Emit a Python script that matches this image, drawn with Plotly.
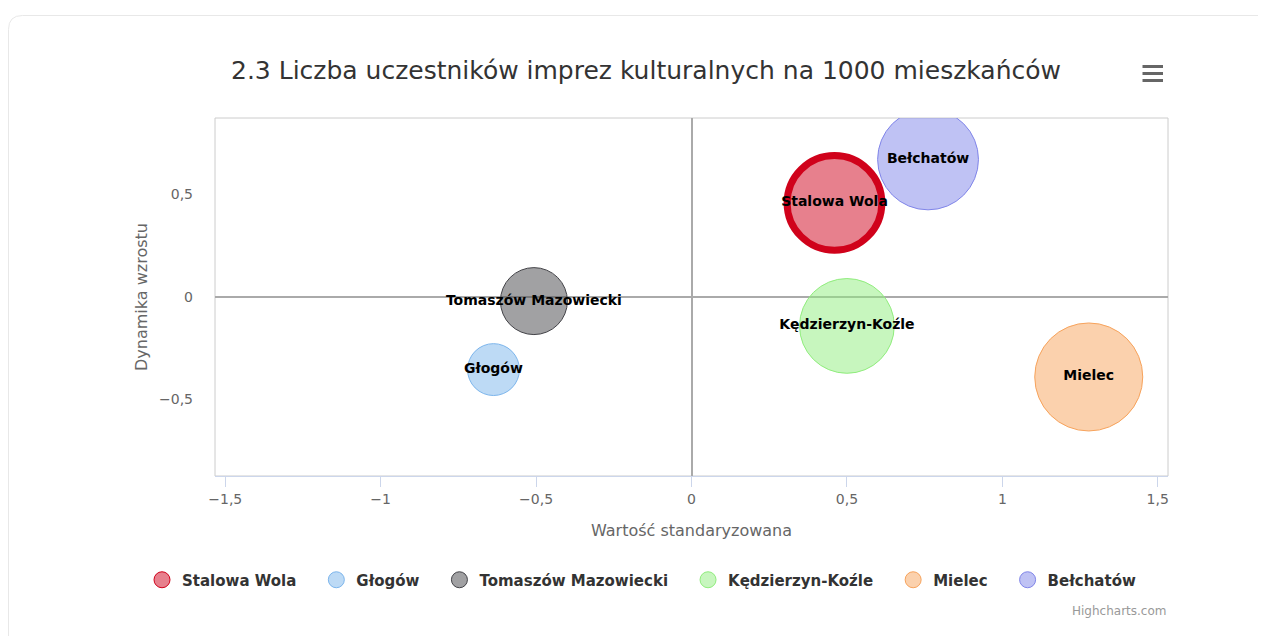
import plotly.graph_objects as go

# ---- data ----
cities = ["Stalowa Wola", "Głogów", "Tomaszów Mazowiecki", "Kędzierzyn-Koźle", "Mielec", "Bełchatów"]
x_std = [0.460, -0.637, -0.507, 0.500, 1.278, 0.761]        # Wartość standaryzowana
y_dyn = [0.459, -0.354, -0.020, -0.141, -0.390, 0.671]      # Dynamika wzrostu
z_val = [90, 27, 45, 90, 117, 102]                          # bubble value
colors = ["#d0021b", "#7cb5ec", "#434348", "#90ed7d", "#f7a35c", "#8085e9"]
x_ticks = [-1.5, -1, -0.5, 0, 0.5, 1, 1.5]
y_ticks = [-0.5, 0, 0.5]

OFF = 8                      # page body margin
PW, PH = 1266, 644           # page size
W, H = PW - 2 * OFF, PH - 2 * OFF
L, R, T, B = 215, 1168, 118, 476   # plot area in page pixels
MAXD = 108
sizeref = 2.0 * max(z_val) / (MAXD ** 2)

def px(x):
    return (x - L) / (R - L)

def py(y):
    return (B - y) / (B - T)

def cx(x):
    return (x - OFF) / W

def cy(y):
    return 1 - (y - OFF) / H

def rgba(hexc, a):
    h = hexc.lstrip("#")
    return "rgba(%d,%d,%d,%s)" % (int(h[0:2], 16), int(h[2:4], 16), int(h[4:6], 16), a)

FONT = "DejaVu Sans"
fig = go.Figure()

n = len(cities)
for i, name in enumerate(cities):
    highlight = (i == 0)
    legend_name = name + ("\u2003" if i < n - 1 else "")
    fig.add_trace(go.Scatter(
        x=[x_std[i]], y=[y_dyn[i]], name=legend_name,
        mode="markers" if highlight else "markers+text",
        text=None if highlight else [name],
        textposition="middle center",
        textfont=dict(family=FONT, size=14, color="#000000", weight="bold"),
        marker=dict(size=[z_val[i]], sizemode="area", sizeref=sizeref, opacity=1,
                    color=rgba(colors[i], 0.5),
                    line=dict(color=colors[i], width=1)),
        hovertemplate=name + "<br>x: %{x}<br>y: %{y}<extra></extra>",
    ))
    if highlight:
        fig.add_trace(go.Scatter(
            x=[x_std[i]], y=[y_dyn[i]], name=name, showlegend=False,
            mode="markers+text", text=[name], textposition="middle center",
            textfont=dict(family=FONT, size=14, color="#000000", weight="bold"),
            marker=dict(size=[z_val[i]], sizemode="area", sizeref=sizeref, opacity=1,
                        color="rgba(0,0,0,0)",
                        line=dict(color=colors[i], width=7)),
            hoverinfo="skip",
        ))

shapes = []
# card border
r = 14
x0c, y0c = 8.5, 15.5
x1c, y1c = PW + 40, PH + 40
path = ("M %f,%f L %f,%f Q %f,%f %f,%f L %f,%f" % (
    px(x0c), py(y1c), px(x0c), py(y0c + r), px(x0c), py(y0c), px(x0c + r), py(y0c),
    px(x1c), py(y0c)))
shapes.append(dict(type="path", path=path, xref="paper", yref="paper",
                   line=dict(color="#e8e8e8", width=1), layer="below"))
# plot border
shapes.append(dict(type="rect", xref="paper", yref="paper", x0=0, x1=1, y0=0, y1=1,
                   line=dict(color="#cccccc", width=1), layer="below"))
# hamburger menu icon
for yy in (66.5, 73.5, 80.5):
    shapes.append(dict(type="line", xref="paper", yref="paper",
                       x0=px(1142.5), x1=px(1163), y0=py(yy), y1=py(yy),
                       line=dict(color="#666666", width=3)))

fig.update_layout(
    width=W, height=H,
    margin=dict(l=L - OFF, r=W - (R - OFF), t=T - OFF, b=H - (B - OFF), autoexpand=False),
    paper_bgcolor="white", plot_bgcolor="white",
    separators=", ",
    font=dict(family=FONT, color="#666666"),
    title=dict(text="2.3 Liczba uczestników imprez kulturalnych na 1000 mieszkańców",
               x=cx(646), xref="container", xanchor="center",
               y=cy(70), yref="container", yanchor="middle",
               font=dict(family=FONT, size=25, color="#333333")),
    xaxis=dict(range=[-1.533, 1.533], tickvals=x_ticks, showgrid=False,
               zeroline=True, zerolinecolor="#aaaaaa", zerolinewidth=2,
               showline=True, linecolor="#ccd6eb", linewidth=1,
               ticks="outside", ticklen=10, tickcolor="#ccd6eb",
               tickfont=dict(family=FONT, size=14, color="#666666"),
               title=dict(text="Wartość standaryzowana", standoff=19,
                          font=dict(family=FONT, size=16, color="#666666"))),
    yaxis=dict(range=[-0.873, 0.873], tickvals=y_ticks, showgrid=False,
               zeroline=True, zerolinecolor="#aaaaaa", zerolinewidth=2,
               showline=False, ticks="", ticklabelstandoff=21,
               tickfont=dict(family=FONT, size=14, color="#666666"),
               title=dict(text="Dynamika wzrostu", standoff=7,
                          font=dict(family=FONT, size=16, color="#666666"))),
    legend=dict(orientation="h", xref="paper", yref="paper",
                x=px(142), xanchor="left", y=py(580), yanchor="middle",
                font=dict(family=FONT, size=15, color="#333333", weight="bold"),
                bgcolor="rgba(0,0,0,0)", traceorder="normal"),
    shapes=shapes,
    annotations=[dict(text="Highcharts.com", xref="paper", yref="paper", x=1, xanchor="right",
                      y=py(611), yanchor="middle", showarrow=False,
                      font=dict(family=FONT, size=12, color="#999999"))],
    showlegend=True,
)

fig.write_html("out.html")
